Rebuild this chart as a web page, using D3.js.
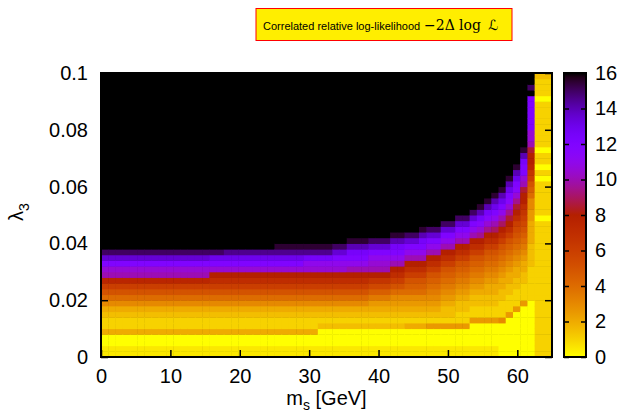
<!DOCTYPE html>
<html>
<head>
<meta charset="utf-8">
<script src="https://cdn.jsdelivr.net/npm/d3@7"></script>
<style>
  body { margin: 0; background: #fff; }
  text { font-family: "Liberation Sans", Arial, sans-serif; }
</style>
</head>
<body>
<div id="chart"></div>
<script>
// scan grid: m_s cell edges (GeV) and lambda_3 cell edges
const msEdges = [0, 1.04, 2.08, 3.13, 4.17, 5.21, 6.25, 7.29, 8.33, 9.38,
  10.42, 11.46, 12.5, 13.54, 14.58, 15.63, 16.67, 17.71, 18.75, 19.79,
  20.83, 21.88, 22.92, 23.96, 25, 26.04, 27.08, 28.13, 29.17, 30.21,
  31.25, 32.29, 33.33, 34.38, 35.42, 36.46, 37.5, 38.54, 39.58, 40.63,
  41.67, 42.71, 43.75, 44.79, 45.83, 46.88, 47.92, 48.96, 50, 51.04,
  52.08, 53.13, 54.17, 55.21, 56.25, 57.29, 58.33, 59.38, 60.42, 61.46,
  62.5, 65];
const lambdaEdges = [0, 0.002, 0.004, 0.006, 0.008, 0.01, 0.012, 0.014, 0.016, 0.018,
  0.02, 0.022, 0.024, 0.026, 0.028, 0.03, 0.032, 0.034, 0.036, 0.038,
  0.04, 0.042, 0.044, 0.046, 0.048, 0.05, 0.052, 0.054, 0.056, 0.058,
  0.06, 0.062, 0.064, 0.066, 0.068, 0.07, 0.072, 0.074, 0.076, 0.078,
  0.08, 0.082, 0.084, 0.086, 0.088, 0.09, 0.092, 0.094, 0.096, 0.098, 0.1];

const xTicks = [0, 10, 20, 30, 40, 50, 60];
const yTicks = [0, 0.02, 0.04, 0.06, 0.08, 0.1];
const yTickLabels = ["0", "0.02", "0.04", "0.06", "0.08", "0.1"];
const zTicks = [0, 2, 4, 6, 8, 10, 12, 14, 16];

// -2 Delta log L, one string per m_s column, bottom row first.
// each character is a value in half units: "0" = 0, "1" = 0.5, ... "W" = 16 (and above)
const LEVELS = "0123456789ABCDEFGHIJKLMNOPQRSTUVW";
const chi2Columns = [
  "11004223468ACFKLORUWWWWWWWWWWWWWWWWWWWWWWWWWWWWWWW",
  "11004223468ACFKLORUWWWWWWWWWWWWWWWWWWWWWWWWWWWWWWW",
  "11004223468ACFKLORUWWWWWWWWWWWWWWWWWWWWWWWWWWWWWWW",
  "11004223468ACFKLORUWWWWWWWWWWWWWWWWWWWWWWWWWWWWWWW",
  "11004223468ACFKLORUWWWWWWWWWWWWWWWWWWWWWWWWWWWWWWW",
  "11004223468ACFKLORUWWWWWWWWWWWWWWWWWWWWWWWWWWWWWWW",
  "11004223468ACFKLORUWWWWWWWWWWWWWWWWWWWWWWWWWWWWWWW",
  "11004223468ACFKLORUWWWWWWWWWWWWWWWWWWWWWWWWWWWWWWW",
  "11004223468ACFKLORUWWWWWWWWWWWWWWWWWWWWWWWWWWWWWWW",
  "11004223468ACFKLORUWWWWWWWWWWWWWWWWWWWWWWWWWWWWWWW",
  "11004223468ACFKLORUWWWWWWWWWWWWWWWWWWWWWWWWWWWWWWW",
  "11004223468ACFKLORUWWWWWWWWWWWWWWWWWWWWWWWWWWWWWWW",
  "11004223468ACFKLORUWWWWWWWWWWWWWWWWWWWWWWWWWWWWWWW",
  "11004223468ACFKLORUWWWWWWWWWWWWWWWWWWWWWWWWWWWWWWW",
  "11004223468ACFKLORUWWWWWWWWWWWWWWWWWWWWWWWWWWWWWWW",
  "11004223468ACEGLOQUWWWWWWWWWWWWWWWWWWWWWWWWWWWWWWW",
  "11004223468ACEGLOQUWWWWWWWWWWWWWWWWWWWWWWWWWWWWWWW",
  "11004223468ACEGLOQTWWWWWWWWWWWWWWWWWWWWWWWWWWWWWWW",
  "11004223468ACEGLOQTWWWWWWWWWWWWWWWWWWWWWWWWWWWWWWW",
  "11004223468ACEGLOQTWWWWWWWWWWWWWWWWWWWWWWWWWWWWWWW",
  "11004223468ACEGLOQTWWWWWWWWWWWWWWWWWWWWWWWWWWWWWWW",
  "11004223468ACEGLOQTWWWWWWWWWWWWWWWWWWWWWWWWWWWWWWW",
  "11004223468ACEGLOQTWWWWWWWWWWWWWWWWWWWWWWWWWWWWWWW",
  "11004223468ACEGLOQTWWWWWWWWWWWWWWWWWWWWWWWWWWWWWWW",
  "11004223468ACEGLOQTVWWWWWWWWWWWWWWWWWWWWWWWWWWWWWW",
  "11004223468ACEGLOQTVWWWWWWWWWWWWWWWWWWWWWWWWWWWWWW",
  "11004223468ACEGLOQTVWWWWWWWWWWWWWWWWWWWWWWWWWWWWWW",
  "11004223468ACEGLOQTVWWWWWWWWWWWWWWWWWWWWWWWWWWWWWW",
  "11004223468ACEGLMPTVWWWWWWWWWWWWWWWWWWWWWWWWWWWWWW",
  "11004223468ACEGLMPTVWWWWWWWWWWWWWWWWWWWWWWWWWWWWWW",
  "11000323468ACEGLMPTVWWWWWWWWWWWWWWWWWWWWWWWWWWWWWW",
  "11000323468ACEGLMPTVWWWWWWWWWWWWWWWWWWWWWWWWWWWWWW",
  "11000323468ACEGLMORUWWWWWWWWWWWWWWWWWWWWWWWWWWWWWW",
  "11000323468ACEGLMORUWWWWWWWWWWWWWWWWWWWWWWWWWWWWWW",
  "11000323468ACEGKMOPSVWWWWWWWWWWWWWWWWWWWWWWWWWWWWW",
  "11000323468ACEGKMOPSVWWWWWWWWWWWWWWWWWWWWWWWWWWWWW",
  "11000323468ACEGKMOPSVWWWWWWWWWWWWWWWWWWWWWWWWWWWWW",
  "110003234579BDGKLMORUWWWWWWWWWWWWWWWWWWWWWWWWWWWWW",
  "110003234579BDGKLMORUWWWWWWWWWWWWWWWWWWWWWWWWWWWWW",
  "110003234579BDGKLMORUWWWWWWWWWWWWWWWWWWWWWWWWWWWWW",
  "110003234568ACEGKMOPSVWWWWWWWWWWWWWWWWWWWWWWWWWWWW",
  "110003234568ACEGKMOPSVWWWWWWWWWWWWWWWWWWWWWWWWWWWW",
  "1100042345689ACEGKMORUWWWWWWWWWWWWWWWWWWWWWWWWWWWW",
  "1100042345689ACEGKMORUWWWWWWWWWWWWWWWWWWWWWWWWWWWW",
  "1100042345689ACEGKMOPSVWWWWWWWWWWWWWWWWWWWWWWWWWWW",
  "11000523456789ACEGKMORUWWWWWWWWWWWWWWWWWWWWWWWWWWW",
  "11000523456789ACEGKMORUWWWWWWWWWWWWWWWWWWWWWWWWWWW",
  "110005233456789ACEGKMORUWWWWWWWWWWWWWWWWWWWWWWWWWW",
  "110005233456789ACEGKMORUWWWWWWWWWWWWWWWWWWWWWWWWWW",
  "1100052233456789ACEGKMORUWWWWWWWWWWWWWWWWWWWWWWWWW",
  "1100052233456789ACEGKMORUWWWWWWWWWWWWWWWWWWWWWWWWW",
  "11000052233456789ACEGKMORUWWWWWWWWWWWWWWWWWWWWWWWW",
  "11000052233456789ACEGJLNPSVWWWWWWWWWWWWWWWWWWWWWWW",
  "110000522334456789ACEGJLNPSVWWWWWWWWWWWWWWWWWWWWWW",
  "110000522334456789ACEGIKMOQSVWWWWWWWWWWWWWWWWWWWWW",
  "0000006222334456789ACEGIKMOQSVWWWWWWWWWWWWWWWWWWWW",
  "00000005222334456789ACEGHJLNOQSVWWWWWWWWWWWWWWWWWW",
  "000000005222334456789ABCEGHJLNOQSVWWWWWWWWWWWWWWWW",
  "0000000005222334456789ABCDEGGHKLOOPSVWWWWWWWWWWWWW",
  "000000000022222233334444556689ACDFGGHKLLOOOOOOWUWW",
  "22222222222222222222222202222220202202222222202223"
];

const width = 623, height = 414;
const plot = { left: 101, right: 552, top: 73, bottom: 357 };
const bar = { left: 564, right: 586 };

// gnuplot default pm3d palette (rgbformulae 7,5,15), negated
const palette = v => {
  const g = 1 - Math.max(0, Math.min(16, v)) / 16;
  const b = Math.max(0, Math.sin(2 * Math.PI * g));
  return d3.rgb(255 * Math.sqrt(g), 255 * g * g * g, 255 * b).formatHex();
};

const x = d3.scaleLinear().domain([0, 65]).range([plot.left, plot.right]);
const y = d3.scaleLinear().domain([0, 0.1]).range([plot.bottom, plot.top]);
const z = d3.scaleLinear().domain([0, 16]).range([plot.bottom, plot.top]);

const svg = d3.select("#chart").append("svg")
  .attr("width", width)
  .attr("height", height);

const defs = svg.append("defs");
defs.append("clipPath").attr("id", "plotclip")
  .append("rect")
    .attr("x", plot.left)
    .attr("y", plot.top)
    .attr("width", plot.right - plot.left)
    .attr("height", plot.bottom - plot.top);

const cells = [];
chi2Columns.forEach((col, i) => {
  for (let j = 0; j < col.length; j++) {
    cells.push({ i, j, v: LEVELS.indexOf(col[j]) / 2 });
  }
});

const heat = svg.append("g").attr("clip-path", "url(#plotclip)");
heat.append("rect")
  .attr("x", plot.left)
  .attr("y", plot.top)
  .attr("width", plot.right - plot.left)
  .attr("height", plot.bottom - plot.top)
  .attr("fill", palette(16));
heat.selectAll("rect.cell")
  .data(cells)
  .join("rect")
    .attr("class", "cell")
    .attr("x", d => x(msEdges[d.i]))
    .attr("y", d => y(lambdaEdges[d.j + 1]))
    .attr("width", d => x(msEdges[d.i + 1]) - x(msEdges[d.i]) + 0.5)
    .attr("height", d => y(lambdaEdges[d.j]) - y(lambdaEdges[d.j + 1]) + 0.5)
    .attr("fill", d => palette(d.v));

// axes, ticks drawn inward and mirrored like gnuplot
const tickStyle = g => {
  g.select(".domain").remove();
  g.selectAll(".tick line").attr("stroke", "#000").attr("stroke-width", 1.5);
  g.selectAll(".tick text").attr("fill", "#000").style("font-size", "20px");
};

svg.append("g")
  .attr("transform", `translate(0,${plot.bottom})`)
  .call(d3.axisBottom(x).tickValues(xTicks).tickSize(-7).tickPadding(12))
  .call(tickStyle);
svg.append("g")
  .attr("transform", `translate(0,${plot.top})`)
  .call(d3.axisTop(x).tickValues(xTicks).tickSize(-7).tickFormat(""))
  .call(tickStyle);
svg.append("g")
  .attr("transform", `translate(${plot.left},0)`)
  .call(d3.axisLeft(y).tickValues(yTicks).tickSize(-7).tickPadding(13)
    .tickFormat((d, k) => yTickLabels[k]))
  .call(tickStyle);
svg.append("g")
  .attr("transform", `translate(${plot.right},0)`)
  .call(d3.axisRight(y).tickValues(yTicks).tickSize(-7).tickFormat(""))
  .call(tickStyle);

svg.append("rect")
  .attr("x", plot.left)
  .attr("y", plot.top)
  .attr("width", plot.right - plot.left)
  .attr("height", plot.bottom - plot.top)
  .attr("fill", "none")
  .attr("stroke", "#000")
  .attr("stroke-width", 2);

// colour box
const grad = defs.append("linearGradient")
  .attr("id", "cbgrad")
  .attr("x1", 0).attr("y1", 1).attr("x2", 0).attr("y2", 0);
grad.selectAll("stop")
  .data(d3.range(0, 16.001, 0.25))
  .join("stop")
    .attr("offset", d => d / 16)
    .attr("stop-color", d => palette(d));

svg.append("rect")
  .attr("x", bar.left)
  .attr("y", plot.top)
  .attr("width", bar.right - bar.left)
  .attr("height", plot.bottom - plot.top)
  .attr("fill", "url(#cbgrad)");
svg.append("g")
  .attr("transform", `translate(${bar.right},0)`)
  .call(d3.axisRight(z).tickValues(zTicks).tickSize(-5).tickPadding(9))
  .call(tickStyle);
svg.append("g")
  .attr("transform", `translate(${bar.left},0)`)
  .call(d3.axisLeft(z).tickValues(zTicks).tickSize(-5).tickFormat(""))
  .call(tickStyle);
svg.append("rect")
  .attr("x", bar.left)
  .attr("y", plot.top)
  .attr("width", bar.right - bar.left)
  .attr("height", plot.bottom - plot.top)
  .attr("fill", "none")
  .attr("stroke", "#000")
  .attr("stroke-width", 2);

// axis titles
const xlab = svg.append("text")
  .attr("x", (plot.left + plot.right) / 2)
  .attr("y", 405)
  .attr("text-anchor", "middle")
  .style("font-size", "20px");
xlab.append("tspan").text("m");
xlab.append("tspan").attr("dy", 5).style("font-size", "14px").text("s");
xlab.append("tspan").attr("dy", -5).text(" [GeV]");

const ylab = svg.append("text")
  .attr("transform", "translate(23,212) rotate(-90)")
  .attr("text-anchor", "middle")
  .style("font-size", "20px");
ylab.append("tspan").text("λ");
ylab.append("tspan").attr("dy", 6).style("font-size", "14px").text("3");

// title box
svg.append("rect")
  .attr("x", 256)
  .attr("y", 8.5)
  .attr("width", 256)
  .attr("height", 32)
  .attr("fill", "#ffee00")
  .attr("stroke", "#ff0000")
  .attr("stroke-width", 1);
svg.append("text")
  .attr("x", 263)
  .attr("y", 29.5)
  .style("font-size", "11px")
  .text("Correlated relative log-likelihood");
svg.append("text")
  .attr("x", 424)
  .attr("y", 30)
  .style("font-family", "'DejaVu Serif', serif")
  .style("font-size", "14px")
  .text("\u22122\u0394");
svg.append("text")
  .attr("x", 459)
  .attr("y", 30)
  .style("font-family", "'DejaVu Serif', serif")
  .style("font-size", "14px")
  .text("log");
svg.append("text")
  .attr("x", 488)
  .attr("y", 30)
  .style("font-family", "'DejaVu Sans', sans-serif")
  .style("font-style", "italic")
  .style("font-size", "14px")
  .text("\u2112");
</script>
</body>
</html>
